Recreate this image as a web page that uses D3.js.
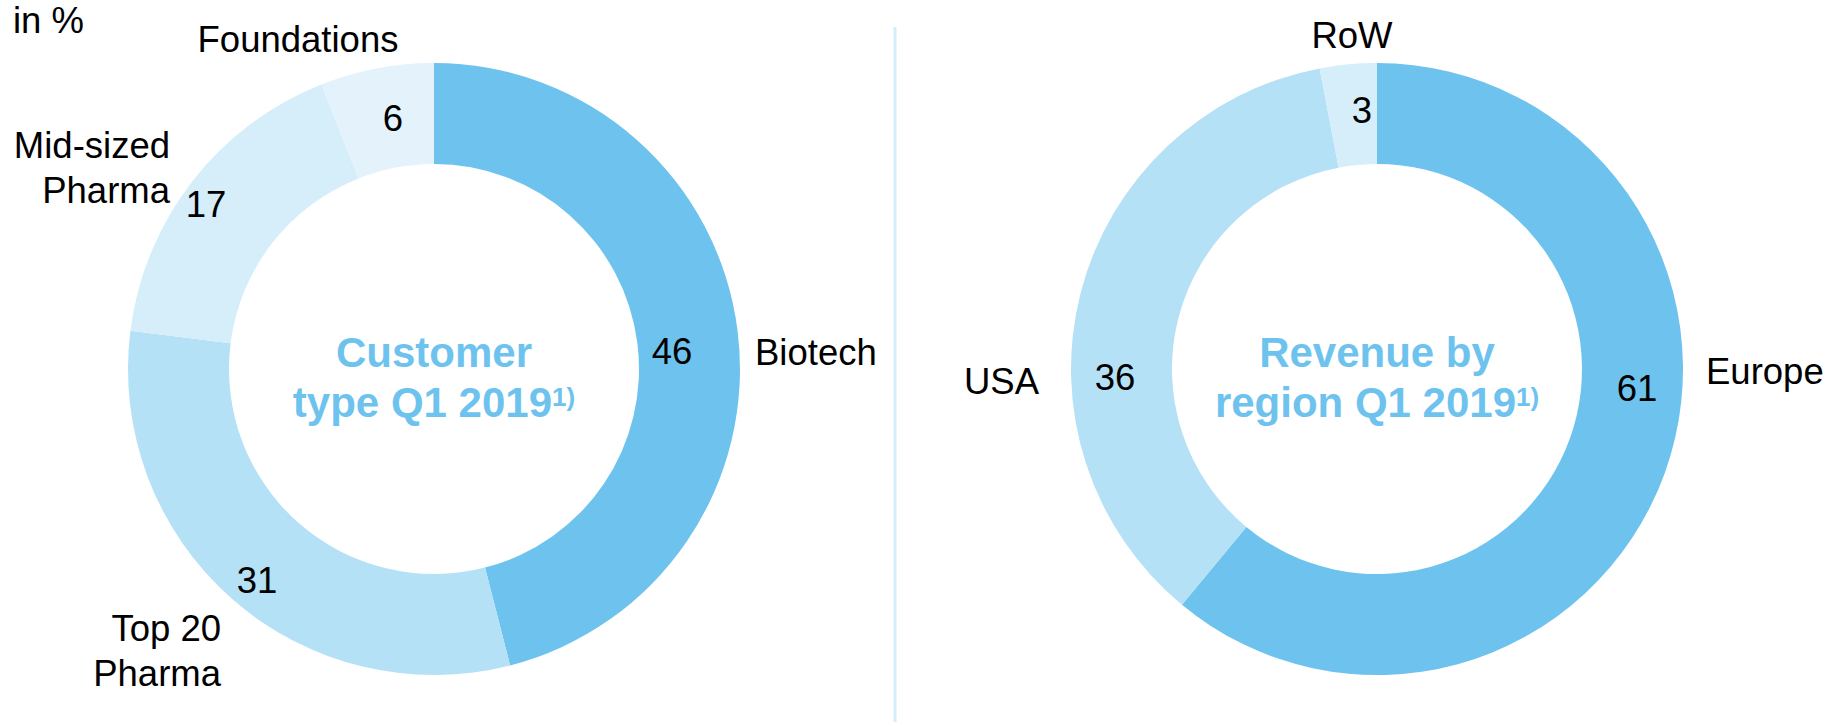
<!DOCTYPE html>
<html>
<head>
<meta charset="utf-8">
<script src="https://cdn.jsdelivr.net/npm/d3@7"></script>
<style>
  body { margin: 0; background: #fff; }
  svg text { font-family: "Liberation Sans", Arial, sans-serif; }
</style>
</head>
<body>
<svg id="chart" width="1841" height="726"></svg>
<script>
// customer type Q1 2019, in %
const customerTypes = ["Biotech", "Top 20 Pharma", "Mid-sized Pharma", "Foundations"];
const customerShares = [46, 31, 17, 6];

// revenue by region Q1 2019, in %
const regions = ["Europe", "USA", "RoW"];
const regionShares = [61, 36, 3];

const colors = {
  "Biotech": "#6ec3ee",
  "Top 20 Pharma": "#b5e1f6",
  "Mid-sized Pharma": "#d6edfa",
  "Foundations": "#e4f2fc",
  "Europe": "#6ec3ee",
  "USA": "#b5e1f6",
  "RoW": "#d6edfa"
};

const outerR = 306;
const innerR = 205;
const labelSize = 36.5;

// hand placed labels, offsets from the donut centre (baseline y)
const labelLayout = {
  "Biotech": { vx: 238, vy: -5, anchor: "start", cx: 321, cy: [-4] },
  "Top 20 Pharma": { vx: -177, vy: 224, anchor: "end", cx: -213, cy: [272, 317], lines: ["Top 20", "Pharma"] },
  "Mid-sized Pharma": { vx: -228, vy: -152, anchor: "end", cx: -264, cy: [-211, -166], lines: ["Mid-sized", "Pharma"] },
  "Foundations": { vx: -41, vy: -238, anchor: "middle", cx: -136, cy: [-317] },
  "Europe": { vx: 260, vy: 32, anchor: "start", cx: 329, cy: [15] },
  "USA": { vx: -262, vy: 21, anchor: "end", cx: -338, cy: [25] },
  "RoW": { vx: -15, vy: -246, anchor: "middle", cx: -25, cy: [-321] }
};

const svg = d3.select("#chart");

svg.append("text")
  .attr("x", 13)
  .attr("y", 33)
  .attr("font-size", labelSize)
  .attr("fill", "#000")
  .text("in %");

// divider between the two donuts
svg.append("line")
  .attr("x1", 895).attr("x2", 895)
  .attr("y1", 27).attr("y2", 722)
  .attr("stroke", "#d6edfa")
  .attr("stroke-width", 3);

function drawDonut(cx, cy, names, values, title) {
  const g = svg.append("g").attr("transform", `translate(${cx},${cy})`);

  const pie = d3.pie().sort(null).value((d) => d.value);
  const arc = d3.arc().innerRadius(innerR).outerRadius(outerR);

  const data = names.map((n, i) => ({ name: n, value: values[i] }));

  g.selectAll("path")
    .data(pie(data))
    .enter()
    .append("path")
    .attr("d", arc)
    .attr("fill", (d) => colors[d.data.name]);

  // value labels
  g.selectAll("text.value")
    .data(data)
    .enter()
    .append("text")
    .attr("class", "value")
    .attr("x", (d) => labelLayout[d.name].vx)
    .attr("y", (d) => labelLayout[d.name].vy)
    .attr("text-anchor", "middle")
    .attr("font-size", labelSize)
    .attr("fill", "#000")
    .text((d) => d.value);

  // category labels
  data.forEach((d) => {
    const l = labelLayout[d.name];
    const lines = l.lines || [d.name];
    lines.forEach((line, i) => {
      g.append("text")
        .attr("x", l.cx)
        .attr("y", l.cy[i])
        .attr("text-anchor", l.anchor)
        .attr("font-size", labelSize)
        .attr("fill", "#000")
        .text(line);
    });
  });

  // title in the middle
  g.append("text")
    .attr("x", 0)
    .attr("y", -2)
    .attr("text-anchor", "middle")
    .attr("font-size", 42)
    .attr("font-weight", "bold")
    .attr("fill", "#6ec3ee")
    .text(title[0]);

  const t2 = g.append("text")
    .attr("x", 0)
    .attr("y", 48)
    .attr("text-anchor", "middle")
    .attr("font-size", 42)
    .attr("font-weight", "bold")
    .attr("fill", "#6ec3ee");
  t2.append("tspan").text(title[1]);
  t2.append("tspan")
    .attr("font-size", 26)
    .attr("dy", -11)
    .text("1)");
}

drawDonut(434, 369, customerTypes, customerShares, ["Customer", "type Q1 2019"]);
drawDonut(1377, 369, regions, regionShares, ["Revenue by", "region Q1 2019"]);
</script>
</body>
</html>
